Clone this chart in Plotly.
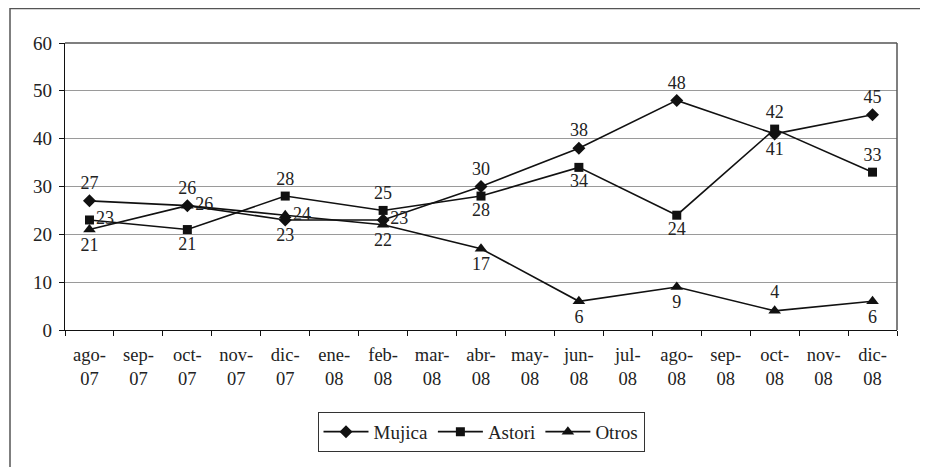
import plotly.graph_objects as go

months = ["ago-<br>07", "sep-<br>07", "oct-<br>07", "nov-<br>07", "dic-<br>07", "ene-<br>08",
          "feb-<br>08", "mar-<br>08", "abr-<br>08", "may-<br>08", "jun-<br>08", "jul-<br>08",
          "ago-<br>08", "sep-<br>08", "oct-<br>08", "nov-<br>08", "dic-<br>08"]

mujica = [27, None, 26, None, 23, None, 23, None, 30, None, 38, None, 48, None, 41, None, 45]
astori = [23, None, 21, None, 28, None, 25, None, 28, None, 34, None, 24, None, 42, None, 33]
otros  = [21, None, 26, None, 24, None, 22, None, 17, None, 6, None, 9, None, 4, None, 6]

mujica_pos = ["top center", "", "top center", "", "bottom center", "", "middle right", "",
              "top center", "", "top center", "", "top center", "", "bottom center", "", "top center"]
astori_pos = ["middle right", "", "bottom center", "", "top center", "", "top center", "",
              "bottom center", "", "bottom center", "", "bottom center", "", "top center", "", "top center"]
otros_pos = ["bottom center", "", "middle right", "", "middle right", "", "bottom center", "",
             "bottom center", "", "bottom center", "", "bottom center", "", "top center", "", "bottom center"]

FONT = "Liberation Serif"
TXT = "#222222"

def lbl(vals):
    return ["" if v is None else str(v) for v in vals]

def fixpos(p):
    return [q if q else "top center" for q in p]

fig = go.Figure()
series = [("Mujica", mujica, mujica_pos, "diamond", 10),
          ("Astori", astori, astori_pos, "square", 9),
          ("Otros", otros, otros_pos, "triangle-up", 11)]
for name, vals, pos, sym, sz in series:
    fig.add_trace(go.Scatter(
        x=months, y=vals, name=name, mode="lines+markers+text",
        connectgaps=True,
        line=dict(color="#111111", width=1.6),
        marker=dict(symbol=sym, size=sz, color="#111111"),
        text=lbl(vals), textposition=fixpos(pos),
        textfont=dict(family=FONT, size=18, color=TXT),
        cliponaxis=False,
    ))

# page has an 8px body margin: figure is shifted by 8px right and down
W, H = 920, 459
L, R, T, B = 57, 31, 35, 137
PW, PH = W - L - R, H - T - B

fig.update_layout(
    width=W, height=H,
    margin=dict(l=L, r=R, t=T, b=B, autoexpand=False),
    paper_bgcolor="white", plot_bgcolor="white",
    font=dict(family=FONT, size=18, color=TXT),
    showlegend=True,
    legend=dict(orientation="h", x=0.5, xanchor="center", y=-0.285, yanchor="top",
                bordercolor="#333333", borderwidth=1, font=dict(family=FONT, size=19, color=TXT),
                itemwidth=45, tracegroupgap=0),
    xaxis=dict(type="category", categoryorder="array", categoryarray=months,
               range=[-0.5, 16.5], showgrid=False, showline=True, linecolor="#111111", linewidth=1.2,
               ticks="outside", ticklen=5, tickcolor="#111111", tickson="boundaries",
               ticklabelstandoff=8,
               tickfont=dict(family=FONT, size=18.5, color=TXT), zeroline=False, fixedrange=True),
    yaxis=dict(range=[0, 60], dtick=10, showgrid=True, gridcolor="#9a9a9a", gridwidth=1,
               showline=True, linecolor="#111111", linewidth=1.2,
               ticks="outside", ticklen=5, tickcolor="#111111", ticklabelstandoff=3,
               tickfont=dict(family=FONT, size=19, color=TXT), zeroline=False, fixedrange=True),
)

# plot area border (top and right)
fig.add_shape(type="line", xref="paper", yref="paper", x0=0, x1=1, y0=1, y1=1,
              line=dict(color="#555555", width=1.5))
fig.add_shape(type="line", xref="paper", yref="paper", x0=1, x1=1, y0=0, y1=1,
              line=dict(color="#555555", width=1.5))
# outer chart frame
fig.add_shape(type="rect", xref="paper", yref="paper",
              x0=(2 - L) / PW, x1=(940 - L) / PW,
              y0=(PH + T - 480) / PH, y1=(PH + T - 0.5) / PH,
              line=dict(color="#555555", width=1.5), fillcolor="rgba(0,0,0,0)", layer="below")

fig.write_html("out.html")
